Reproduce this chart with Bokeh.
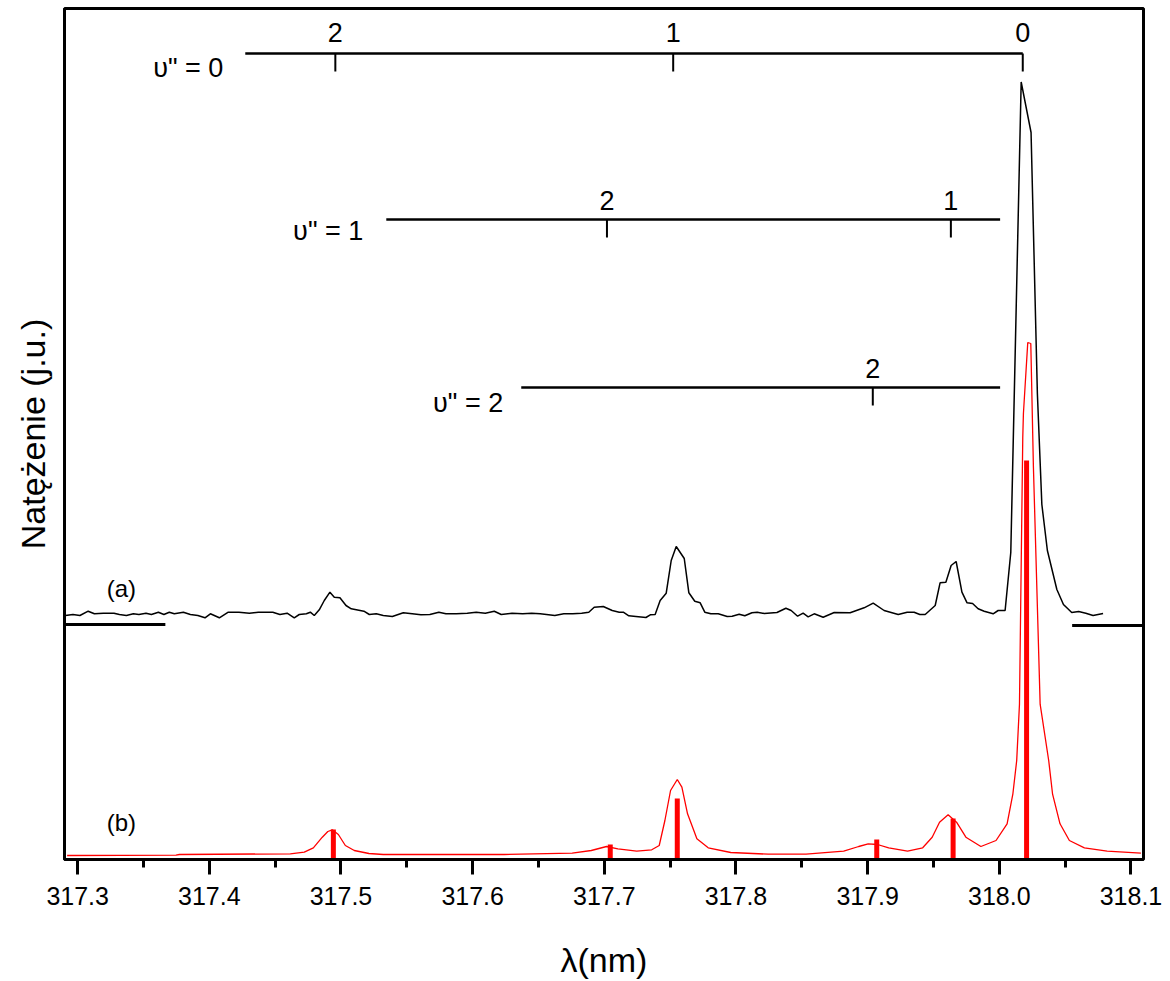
from bokeh.plotting import figure
from bokeh.models import Range1d, FixedTicker
from bokeh.embed import file_html
from bokeh.resources import INLINE
from bokeh.core.properties import value

# ---------------- data ----------------
x_ticks = [317.3, 317.4, 317.5, 317.6, 317.7, 317.8, 317.9, 318.0, 318.1]
x_tick_labels = ["317.3", "317.4", "317.5", "317.6", "317.7", "317.8", "317.9", "318.0", "318.1"]
x_minor_ticks = [317.35, 317.45, 317.55, 317.65, 317.75, 317.85, 317.95, 318.05]

# (a) measured spectrum
black_lambda = [317.2907, 317.2964, 317.3017, 317.3080, 317.3127, 317.3195, 317.3276, 317.3317, 317.3370,
                317.3423, 317.3465, 317.3519, 317.3560, 317.3613, 317.3655, 317.3696, 317.3734, 317.3803,
                317.3856, 317.3913, 317.3967, 317.4008, 317.4076, 317.4144, 317.4225, 317.4304, 317.4372,
                317.4482, 317.4536, 317.4591, 317.4645, 317.4683, 317.4737, 317.4767, 317.4797, 317.4835,
                317.4873, 317.4916, 317.4949, 317.4992, 317.5038, 317.5078, 317.5174, 317.5215, 317.5268,
                317.5321, 317.5390, 317.5473, 317.5541, 317.5607, 317.5675, 317.5743, 317.5797, 317.5876,
                317.5959, 317.6027, 317.6096, 317.6164, 317.6217, 317.6299, 317.6380, 317.6448, 317.6513,
                317.6624, 317.6692, 317.6760, 317.6828, 317.6882, 317.6923, 317.6992, 317.7060, 317.7113,
                317.7144, 317.7186, 317.7240, 317.7316, 317.7349, 317.7386, 317.7424, 317.7470, 317.7508,
                317.7546, 317.7607, 317.7642, 317.7687, 317.7728, 317.7763, 317.7809, 317.7865, 317.7933,
                317.7971, 317.8024, 317.8067, 317.8121, 317.8161, 317.8214, 317.8311, 317.8379, 317.8419,
                317.8468, 317.8510, 317.8548, 317.8594, 317.8662, 317.8746, 317.8867, 317.8973, 317.9042,
                317.9125, 317.9232, 317.9300, 317.9353, 317.9396, 317.9437, 317.9513, 317.9550, 317.9594,
                317.9634, 317.9672, 317.9716, 317.9755, 317.9797, 317.9839, 317.9885, 317.9953, 317.9991,
                318.0044, 318.0087, 318.0166, 318.0241, 318.0289, 318.0323, 318.0365, 318.0437, 318.0487,
                318.0550, 318.0603, 318.0657, 318.0712, 318.0788]
black_int = [244, 245, 244, 248.3, 245.7, 246.3, 246.3, 245, 244,
             245.7, 245, 246.3, 245, 247.3, 245, 247.3, 245.7, 247.3,
             245, 244, 241.7, 245.7, 241.7, 247.3, 247.3, 246.3, 247.3,
             247.3, 245, 246.3, 241.7, 245, 245.7, 247.3, 244, 249.7,
             259, 267.3, 262.3, 261.7, 254, 250.7, 248.3, 245, 245.7,
             244, 243, 246.7, 245.7, 244.7, 245, 247.3, 245.7, 245.7,
             246.3, 247.3, 246.3, 248.3, 245, 246.3, 245.7, 246.3, 245.7,
             244, 245.7, 245.7, 246.3, 247.3, 252.3, 253, 249, 247.3,
             247.3, 243.7, 243, 242, 244.7, 245, 259, 266.3, 299,
             313, 301, 266.7, 258.3, 256.7, 247.3, 245.7, 245.7, 243,
             243.3, 245.3, 243.7, 246.7, 247.3, 246, 247, 251.3, 249,
             243.3, 246.3, 242.7, 245.7, 242.3, 247, 246.7, 251.7, 256.3,
             249, 245, 247.3, 247.3, 245, 245, 254, 276.7, 277.3,
             294, 298, 267.3, 256.7, 256, 250.7, 248.3, 245.7, 249,
             249, 307, 777.5, 727, 466, 355, 309, 270, 255,
             247, 248, 246.3, 244, 246]

# (b) simulated spectrum
red_lambda = [317.2920, 317.3747, 317.3772, 317.4615, 317.4721, 317.4790, 317.4858, 317.4900, 317.4934,
              317.4980, 317.5033, 317.5101, 317.5212, 317.5321, 317.5701, 317.6240, 317.6756, 317.6901,
              317.7017, 317.7103, 317.7246, 317.7360, 317.7417, 317.7460, 317.7503, 317.7554, 317.7589,
              317.7632, 317.7703, 317.7789, 317.7960, 317.8245, 317.8532, 317.8818, 317.8932, 317.9004,
              317.9074, 317.9160, 317.9303, 317.9418, 317.9490, 317.9546, 317.9611, 317.9675, 317.9746,
              317.9860, 317.9975, 318.0059, 318.0103, 318.0132, 318.0153, 318.0178, 318.0183, 318.0216,
              318.0239, 318.0259, 318.0310, 318.0375, 318.0404, 318.0461, 318.0532, 318.0646, 318.0819,
              318.1075]
red_int = [4, 4.3, 5, 5.7, 7.3, 11.7, 22.3, 28, 29.7,
           25, 14, 9, 6, 5, 5, 5, 6.3, 9,
           13, 10.7, 8.3, 9.7, 14, 39, 69, 80, 72.3,
           45.7, 20.7, 11.7, 7, 5.3, 5.3, 8.3, 13, 15.7,
           15, 11.7, 8.3, 11.7, 22.3, 37.3, 44.7, 37.3, 22.3,
           13, 19, 35.7, 65.7, 99, 155.3, 421.6, 446, 517,
           516, 392, 155.3, 99, 65.7, 35.7, 19, 11.7, 8.3,
           6.3]

# simulated line positions (sticks)
stick_lambda = [317.4942, 317.7045, 317.7554, 317.9069, 317.9649, 318.0207]
stick_int = [30, 15, 61, 20, 41, 399]

# zero level markers for spectrum (a)
zero_x0 = [317.2907, 318.0553]
zero_x1 = [317.3666, 318.1091]
zero_y = [235, 234]

# vibrational progressions v'' = 0, 1, 2
ladder_names = ['υ" = 0', 'υ" = 1', 'υ" = 2']
ladder_start = [317.4273, 317.5344, 317.6369]
ladder_end = [318.0178, 318.0006, 318.0006]
ladder_level = [806, 640, 472]
ladder_name_x = [317.4106, 317.5169, 317.6232]
ladder_name_y = [792, 629, 457]
ladder_tick_lambda = [317.4957, 317.7523, 318.0178, 317.7020, 317.9632, 317.9039]
ladder_tick_level = [806, 806, 806, 640, 640, 472]
ladder_tick_labels = ["2", "1", "0", "2", "1", "2"]
ladder_label_y = [827, 827, 827, 659, 659, 491]

curve_labels = ["(a)", "(b)"]
curve_label_x = [317.3332, 317.3332]
curve_label_y = [271, 37]

TICK_LEN = 18
FONT = "Liberation Sans"

# ---------------- figure ----------------
p = figure(width=1162, height=981,
           x_range=Range1d(317.2900, 318.1095), y_range=Range1d(0, 851),
           output_backend="svg", toolbar_location=None,
           min_border_left=64, min_border_right=19, min_border_top=8, min_border_bottom=122)
p.grid.visible = False
p.background_fill_color = "white"
p.border_fill_color = "white"
p.outline_line_color = "black"
p.outline_line_width = 3
p.outline_line_alpha = 1.0

xa = p.xaxis[0]
xa.ticker = FixedTicker(ticks=x_ticks, minor_ticks=x_minor_ticks)
xa.major_label_overrides = {t: s for t, s in zip(x_ticks, x_tick_labels)}
xa.axis_label = "λ(nm)"
xa.axis_label_text_font = FONT
xa.axis_label_text_font_size = "34px"
xa.axis_label_text_font_style = "normal"
xa.axis_label_text_color = "black"
xa.axis_label_standoff = 33
xa.major_label_text_font = FONT
xa.major_label_text_font_size = "25px"
xa.major_label_text_color = "black"
xa.major_label_standoff = 12
xa.axis_line_width = 3
xa.axis_line_color = "black"
xa.major_tick_in = 0
xa.major_tick_out = 15
xa.minor_tick_in = 0
xa.minor_tick_out = 8
xa.major_tick_line_width = 3
xa.minor_tick_line_width = 3
xa.major_tick_line_color = "black"
xa.minor_tick_line_color = "black"

ya = p.yaxis[0]
ya.ticker = FixedTicker(ticks=[], minor_ticks=[])
ya.axis_label = "Natężenie (j.u.)"
ya.axis_label_text_font = FONT
ya.axis_label_text_font_size = "34px"
ya.axis_label_text_font_style = "normal"
ya.axis_label_text_color = "black"
ya.axis_label_standoff = 13
ya.axis_line_width = 3
ya.axis_line_color = "black"
ya.major_tick_out = 0
ya.major_tick_in = 0
ya.minor_tick_out = 0
ya.minor_tick_in = 0
ya.major_label_text_font_size = "0px"

# spectra
p.line(black_lambda, black_int, line_color="black", line_width=1.5)
p.line(red_lambda, red_int, line_color="red", line_width=1.3)
p.segment(x0=stick_lambda, y0=[0] * len(stick_lambda), x1=stick_lambda, y1=stick_int,
          line_color="red", line_width=5, line_cap="butt")

# zero level markers
p.segment(x0=zero_x0, y0=zero_y, x1=zero_x1, y1=zero_y, line_color="black", line_width=3)

# progressions
p.segment(x0=ladder_start, y0=ladder_level, x1=ladder_end, y1=ladder_level,
          line_color="black", line_width=2.5)
p.segment(x0=ladder_tick_lambda, y0=ladder_tick_level, x1=ladder_tick_lambda,
          y1=[v - TICK_LEN for v in ladder_tick_level], line_color="black", line_width=2)
p.text(x=ladder_tick_lambda, y=ladder_label_y, text=ladder_tick_labels,
       text_font=value(FONT), text_font_size="27px", text_color="black",
       text_align="center", text_baseline="middle")
p.text(x=ladder_name_x, y=ladder_name_y, text=ladder_names,
       text_font=value(FONT), text_font_size="27px", text_color="black",
       text_align="right", text_baseline="middle")
p.text(x=curve_label_x, y=curve_label_y, text=curve_labels,
       text_font=value(FONT), text_font_size="24px", text_color="black",
       text_align="center", text_baseline="middle")

open("out.html", "w").write(file_html(p, INLINE))
